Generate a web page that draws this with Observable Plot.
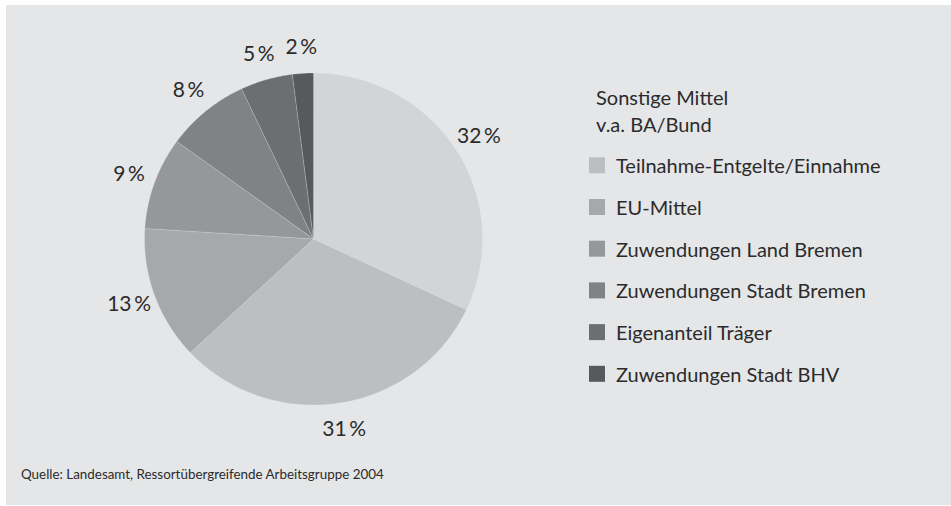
<!DOCTYPE html>
<html><head><meta charset="utf-8">
<script src="https://cdn.jsdelivr.net/npm/d3@7"></script>
<script src="https://cdn.jsdelivr.net/npm/@observablehq/plot@0.6"></script>
<style>
html,body{margin:0;padding:0;background:#fff;}
#wrap{position:relative;width:951px;height:506px;overflow:hidden;font-family:Lato,sans-serif;}
#panel{position:absolute;left:6px;top:5px;width:945px;height:500px;background:#e5e6e8;}
#chart{position:absolute;left:0;top:0;}
#legend{position:absolute;left:0;top:0;}
</style></head><body>
<div id="wrap"><div id="panel"></div><div id="chart"></div><svg id="legend" width="951" height="506"></svg></div>
<script>
const categories = ["Sonstige Mittel\nv.a. BA/Bund", "Teilnahme-Entgelte/Einnahme", "EU-Mittel", "Zuwendungen Land Bremen", "Zuwendungen Stadt Bremen", "Eigenanteil Träger", "Zuwendungen Stadt BHV"];
const shares = [32, 31, 13, 9, 8, 5, 2];
const percentLabels = ["32\u2009%", "31\u2009%", "13\u2009%", "9\u2009%", "8\u2009%", "5\u2009%", "2\u2009%"];
const colors = ["#d3d4d6", "#bdbec1", "#a7a8ab", "#96979a", "#818285", "#6d6e71", "#58595b"];
const caption = "Quelle: Landesamt, Ressortübergreifende Arbeitsgruppe 2004";

const arcs = d3.pie().sort(null).value(d => d)(shares);
const slicePts = [];
const labelData = [];
arcs.forEach((a, i) => {
  const n = Math.max(2, Math.ceil((a.endAngle - a.startAngle) / 0.01));
  slicePts.push({key: categories[i], x: 0, y: 0});
  for (let k = 0; k <= n; k++) {
    const t = a.startAngle + (a.endAngle - a.startAngle) * k / n;
    slicePts.push({key: categories[i], x: Math.sin(t), y: Math.cos(t)});
  }
  const m = (a.startAngle + a.endAngle) / 2;
  labelData.push({x: Math.sin(m) * 1.16, y: Math.cos(m) * 1.16, label: percentLabels[i]});
});

const W = 951, H = 506;
const chart = Plot.plot({
  width: W, height: H,
  marginLeft: 144, marginRight: W - 482, marginTop: 72.5, marginBottom: H - 404.5,
  x: {domain: [-1, 1], axis: null},
  y: {domain: [-1, 1], axis: null},
  color: {domain: categories, range: colors},
  style: {background: "transparent", fontFamily: "Lato, sans-serif", overflow: "visible"},
  marks: [
    Plot.line(slicePts, {x: "x", y: "y", z: "key", fill: "key", stroke: "#e5e6e8", strokeWidth: 0.4, strokeOpacity: 0.7, strokeLinejoin: "round", curve: "linear-closed"}),
    Plot.text(labelData, {x: "x", y: "y", text: "label", fontSize: 21, fill: "#2b2b2b"})
  ]
});
document.getElementById("chart").appendChild(chart);

const leg = d3.select("#legend").style("font-family", "Lato, sans-serif");
categories.forEach((c, i) => {
  if (i === 0) {
    c.split("\n").forEach((line, j) => {
      leg.append("text").attr("x", 596).attr("y", 105 + j * 26.7)
        .attr("font-size", 20).attr("fill", "#2b2b2b").text(line);
    });
  } else {
    const base = 173.3 + (i - 1) * 41.7;
    leg.append("rect").attr("x", 589).attr("y", base - 16).attr("width", 16).attr("height", 16).attr("fill", colors[i]);
    leg.append("text").attr("x", 616).attr("y", base)
      .attr("font-size", 20).attr("fill", "#2b2b2b").text(c);
  }
});
leg.append("text").attr("x", 21).attr("y", 478.5).attr("font-size", 13.4).attr("fill", "#2b2b2b").text(caption);
</script>
</body></html>
